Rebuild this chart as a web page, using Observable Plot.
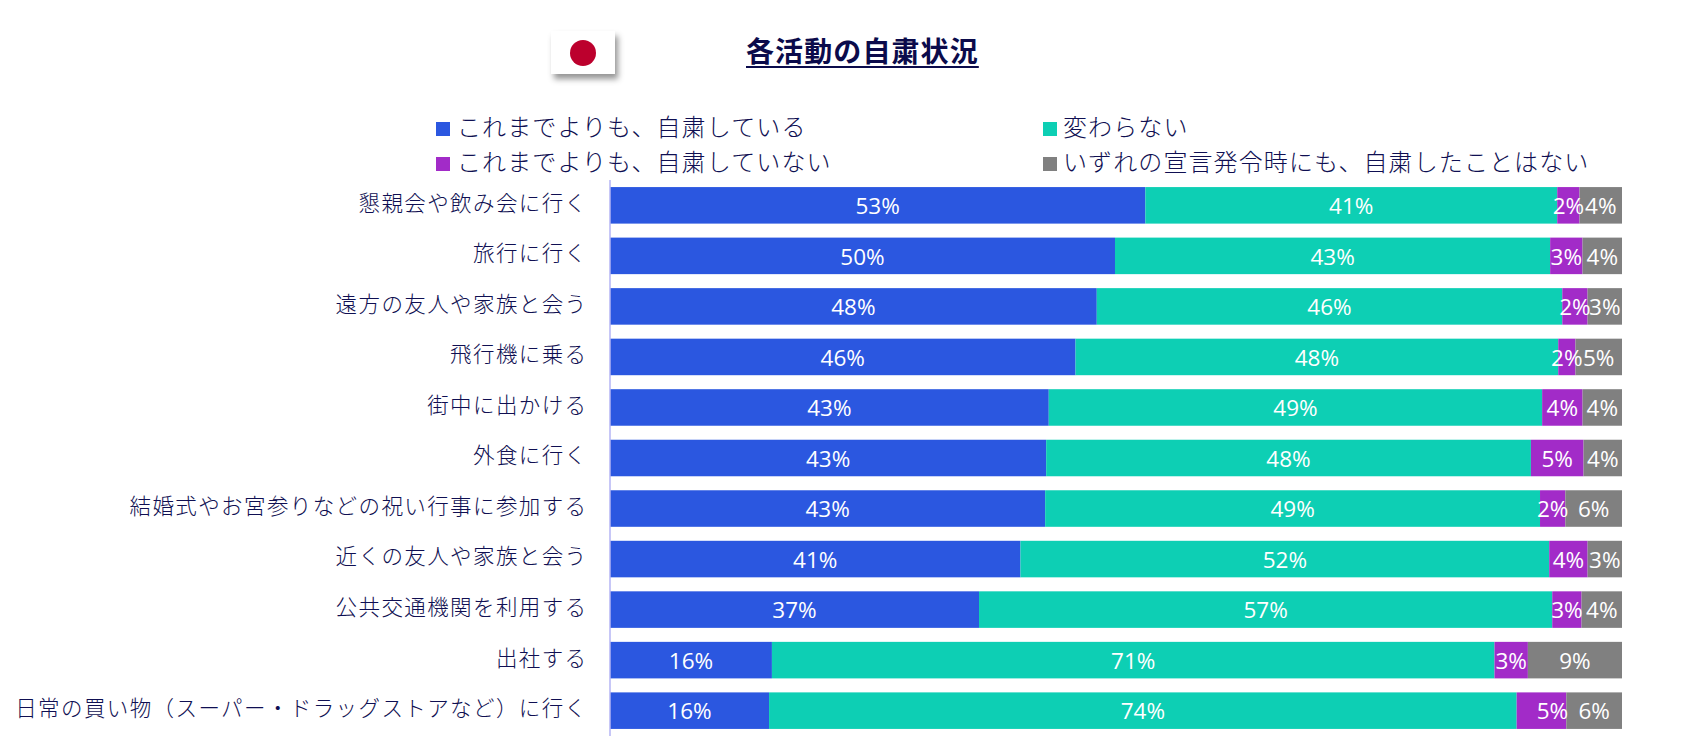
<!DOCTYPE html>
<html lang="ja">
<head>
<meta charset="utf-8">
<script src="https://cdn.jsdelivr.net/npm/d3@7"></script>
<script src="https://cdn.jsdelivr.net/npm/@observablehq/plot@0.6"></script>
<style>
  html, body { margin: 0; padding: 0; background: #fff; }
  body { width: 1705px; height: 736px; overflow: hidden; font-family: "Noto Sans CJK JP", sans-serif; color: #0f0f52; }
  #header { position: relative; height: 180px; width: 1705px; }
  #flag { position: absolute; left: 551px; top: 31px; width: 64px; height: 43px; background: #fff; box-shadow: 3px 5px 6px rgba(0,0,0,.42); }
  #flag i { position: absolute; left: 19px; top: 8.5px; width: 26px; height: 26px; border-radius: 50%; background: #BC002D; }
  #title { position: absolute; left: 746px; top: 30px; font-size: 28px; line-height: 40px; font-weight: 700; letter-spacing: 1.1px; color: #0b0b4b; text-decoration: underline; text-underline-offset: 4px; text-decoration-thickness: 2px; white-space: nowrap; }
  .leg { position: absolute; font-size: 24px; line-height: 34px; font-weight: 300; letter-spacing: 1.1px; white-space: nowrap; }
  .sw { position: absolute; width: 14px; height: 14px; }
  #plot svg { display: block; }
  #plot svg [aria-label="y-axis tick label"] { letter-spacing: 1.4px; font-weight: 300; }
</style>
</head>
<body>
<div id="header">
  <div id="flag"><i></i></div>
  <div id="title">各活動の自粛状況</div>
</div>
<div id="plot"></div>
<script>
const categories = [
  "懇親会や飲み会に行く", "旅行に行く", "遠方の友人や家族と会う", "飛行機に乗る", "街中に出かける",
  "外食に行く", "結婚式やお宮参りなどの祝い行事に参加する", "近くの友人や家族と会う",
  "公共交通機関を利用する", "出社する", "日常の買い物（スーパー・ドラッグストアなど）に行く"
];
const seriesNames = ["これまでよりも、自粛している", "変わらない", "これまでよりも、自粛していない", "いずれの宣言発令時にも、自粛したことはない"];
const seriesColors = ["#2B57E0", "#0DCFB4", "#A22BC8", "#808080"];
const moreRestrained = [52.9, 49.9, 48.1, 46.0, 43.4, 43.1, 43.0, 40.6, 36.5, 16.0, 15.7];
const unchanged      = [40.7, 43.0, 46.0, 47.7, 48.8, 47.9, 48.9, 52.3, 56.7, 71.4, 73.8];
const lessRestrained = [2.2, 3.2, 2.5, 1.7, 4.0, 5.2, 2.5, 3.8, 2.9, 3.3, 4.9];
const neverRestrained = [4.2, 3.9, 3.4, 4.6, 3.9, 3.8, 5.6, 3.4, 4.0, 9.3, 5.5];
const labelsMore      = ["53%", "50%", "48%", "46%", "43%", "43%", "43%", "41%", "37%", "16%", "16%"];
const labelsUnchanged = ["41%", "43%", "46%", "48%", "49%", "48%", "49%", "52%", "57%", "71%", "74%"];
const labelsLess      = ["2%", "3%", "2%", "2%", "4%", "5%", "2%", "4%", "3%", "3%", "5%"];
const labelsNever     = ["4%", "4%", "3%", "5%", "4%", "4%", "6%", "3%", "4%", "9%", "6%"];

const valueSets = [moreRestrained, unchanged, lessRestrained, neverRestrained];
const labelSets = [labelsMore, labelsUnchanged, labelsLess, labelsNever];
const rows = seriesNames.flatMap((series, s) =>
  categories.map((category, c) => ({category, series, value: valueSets[s][c], label: labelSets[s][c]}))
);

const header = document.getElementById("header");
const legendPlaces = [[436, 457, 122], [1043, 1063, 122], [436, 457, 157], [1043, 1063, 157]];
seriesNames.forEach((name, i) => {
  const [sx, tx, sy] = legendPlaces[i];
  const sw = document.createElement("div");
  sw.className = "sw";
  sw.style.cssText = `left:${sx}px;top:${sy}px;background:${seriesColors[i]}`;
  const t = document.createElement("div");
  t.className = "leg";
  t.style.cssText = `left:${tx}px;top:${sy - 13}px`;
  t.textContent = name;
  header.append(sw, t);
});

const stackOpts = {y: "category", x: "value", z: "series", order: null, offset: "normalize"};
const isShifted = d => d.series === seriesNames[2] && d.category === categories[10];
const labelStyle = {fill: "white", fontSize: 22.5, fontFamily: "'Open Sans', sans-serif", dy: 1, dx: -0.5};

const chart = Plot.plot({
  width: 1705,
  height: 556,
  marginLeft: 610,
  marginRight: 83,
  marginTop: 0,
  marginBottom: 0,
  style: {fontFamily: "'Noto Sans CJK JP', sans-serif", background: "#fff", overflow: "visible"},
  x: {domain: [0, 1], axis: null},
  y: {domain: categories, paddingInner: 0.277, paddingOuter: 0.14, round: false, label: null},
  color: {domain: seriesNames, range: seriesColors},
  marks: [
    Plot.barX(rows, Plot.stackX({...stackOpts, fill: "series"})),
    Plot.text(rows, Plot.stackX({...stackOpts, ...labelStyle, text: d => isShifted(d) ? null : d.label})),
    Plot.text(rows, Plot.stackX({...stackOpts, ...labelStyle, dx: 10.5, text: d => isShifted(d) ? d.label : null})),
    Plot.axisY({tickSize: 0, tickPadding: 23, fontSize: 21.5, dy: -2, fill: "#0f0f52", label: null, anchor: "left"}),
    Plot.ruleX([0], {stroke: "#b4b4f4", strokeWidth: 1.5, dx: -0.5})
  ]
});
document.getElementById("plot").append(chart);
</script>
</body>
</html>
